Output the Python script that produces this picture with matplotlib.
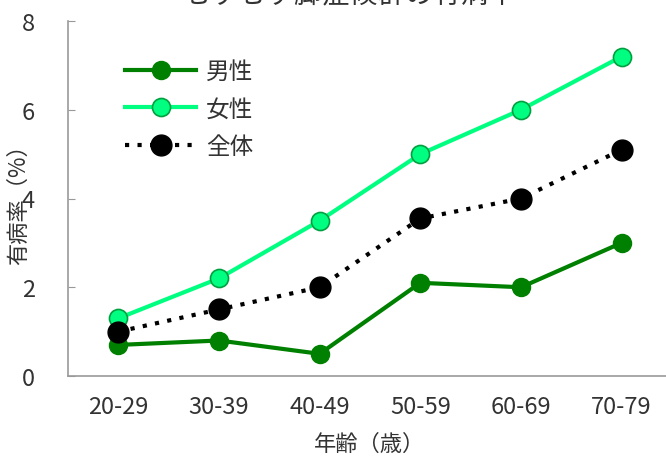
import matplotlib
matplotlib.use("Agg")
import matplotlib.pyplot as plt

plt.rcParams['font.family'] = ['Noto Sans CJK JP', 'DejaVu Sans']

ages = ["20-29", "30-39", "40-49", "50-59", "60-69", "70-79"]
male = [0.7, 0.8, 0.5, 2.1, 2.0, 3.0]
female = [1.3, 2.2, 3.5, 5.0, 6.0, 7.2]
total = [1.0, 1.5, 2.0, 3.55, 4.0, 5.1]
yticks = [0, 2, 4, 6, 8]

fig = plt.figure(figsize=(6.66, 4.6), dpi=100)
ax = fig.add_axes([68 / 666, 1 - 377 / 460, 604 / 666, 355 / 460])

x = list(range(len(ages)))
ax.plot(x, male, color="#008000", lw=3, marker="o", ms=13,
        mfc="#008000", mec="#008000", label="男性", zorder=3)
ax.plot(x, female, color="#00FF80", lw=3, marker="o", ms=13,
        mfc="#00FF80", mec="#00A040", mew=1.2, label="女性", zorder=3)
ax.plot(x, total, color="black", lw=3, ls=(0, (1, 2)), marker="o", ms=15,
        mfc="black", mec="black", label="全体", zorder=4)

ax.set_xlim(-0.5, 5.5)
ax.set_ylim(0, 8)
ax.set_xticks(x)
ax.set_xticklabels(ages)
ax.set_yticks(yticks)
ax.tick_params(axis="x", length=0, pad=14, labelsize=17, colors="#333333")
ax.tick_params(axis="y", direction="in", length=5, color="#999999",
               labelsize=17, labelcolor="#333333", pad=24)
for s in ["top", "right"]:
    ax.spines[s].set_visible(False)
for s in ["left", "bottom"]:
    ax.spines[s].set_color("#999999")
    ax.spines[s].set_linewidth(1.2)

ax.set_xlabel("年齢（歳）", fontsize=16, color="#333333", labelpad=10)
ax.set_ylabel("有病率（%）", fontsize=16, color="#333333", labelpad=-6)

leg = ax.legend(loc="upper left", bbox_to_anchor=(0.06, 0.95), frameon=False,
                fontsize=17, handlelength=3.0, labelspacing=0.62,
                handletextpad=0.4)
for t in leg.get_texts():
    t.set_color("#333333")

fig.text(350 / 666, 1 - 10 / 460, "むずむず脚症候群の有病率", ha="center",
         va="bottom", fontsize=20, color="#333333")

fig.savefig("out.png", dpi=100)
